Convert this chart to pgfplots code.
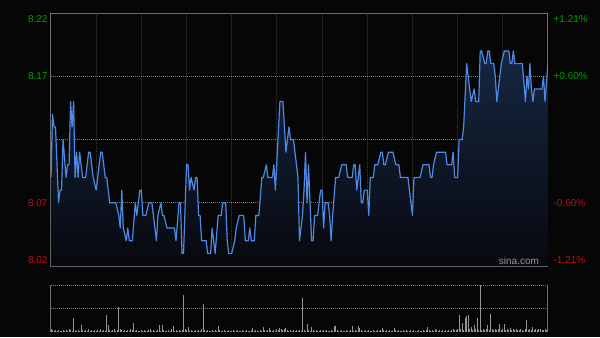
\documentclass[border=0pt]{standalone}
\usepackage{pgfplots}
\pgfplotsset{compat=1.18}
\usepackage{pgfplotstable}
\usepackage{fontspec}
\setmainfont{Liberation Sans}
\definecolor{bg}{RGB}{6,6,6}
\definecolor{framecol}{RGB}{110,110,110}
\definecolor{vgrid}{RGB}{58,58,58}
\definecolor{hgrid}{RGB}{120,120,120}
\definecolor{pline}{RGB}{78,138,228}
\definecolor{ftop}{RGB}{22,38,66}
\definecolor{fbot}{RGB}{7,9,14}
\definecolor{upg}{RGB}{0,160,0}
\definecolor{dnr}{RGB}{204,10,10}
\definecolor{volc}{RGB}{150,150,150}
\definecolor{sinac}{RGB}{150,150,150}

\pgfplotstableread{
m p
0 8.09
1 8.14
2 8.13
3 8.13
5 8.07
6 8.08
7 8.08
8 8.12
10 8.09
11 8.10
12 8.10
13 8.15
14 8.13
15 8.15
16 8.09
17 8.11
18 8.09
19 8.11
21 8.09
23 8.09
25 8.11
26 8.11
28 8.09
30 8.08
31 8.09
33 8.11
34 8.11
36 8.09
37 8.09
39 8.07
43 8.07
45 8.06
46 8.05
47 8.08
48 8.05
50 8.04
51 8.05
52 8.04
54 8.04
56 8.07
57 8.06
59 8.08
60 8.08
61 8.06
63 8.06
65 8.07
67 8.07
68 8.06
70 8.04
71 8.06
73 8.07
74 8.06
75 8.06
77 8.05
82 8.05
83 8.04
85 8.07
86 8.07
87 8.03
88 8.03
90 8.10
91 8.10
92 8.08
93 8.09
95 8.08
96 8.09
97 8.09
98 8.06
99 8.06
100 8.04
103 8.04
104 8.03
106 8.03
107 8.05
109 8.03
111 8.06
113 8.06
114 8.07
116 8.07
117 8.04
118 8.03
120 8.03
122 8.04
123 8.05
125 8.06
128 8.06
129 8.04
131 8.04
132 8.05
133 8.04
135 8.04
136 8.06
138 8.06
140 8.09
141 8.09
143 8.10
144 8.09
147 8.09
148 8.10
149 8.08
152 8.15
154 8.15
155 8.13
156 8.11
158 8.13
159 8.12
161 8.12
163 8.10
164 8.09
165 8.04
167 8.06
168 8.08
169 8.11
170 8.07
171 8.10
173 8.04
174 8.04
175 8.06
177 8.06
179 8.08
180 8.08
181 8.05
182 8.07
184 8.07
185 8.06
186 8.04
187 8.06
189 8.09
191 8.09
193 8.10
196 8.10
197 8.09
200 8.09
201 8.10
202 8.10
203 8.08
205 8.10
206 8.07
207 8.07
208 8.08
210 8.08
211 8.06
212 8.09
214 8.09
215 8.10
217 8.10
219 8.11
220 8.11
221 8.10
222 8.10
224 8.11
227 8.11
229 8.10
231 8.10
232 8.09
237 8.09
239 8.07
240 8.06
241 8.09
245 8.09
247 8.10
251 8.10
252 8.09
253 8.09
254 8.10
256 8.11
262 8.11
263 8.10
266 8.10
267 8.11
268 8.09
270 8.09
271 8.12
273 8.12
274 8.13
276 8.18
277 8.17
279 8.15
281 8.16
282 8.15
284 8.15
285 8.19
286 8.19
288 8.18
289 8.18
290 8.19
291 8.19
292 8.18
294 8.18
295 8.17
296 8.15
298 8.17
299 8.18
301 8.19
304 8.19
305 8.18
306 8.18
307 8.19
308 8.18
313 8.18
315 8.15
316 8.17
317 8.16
318 8.18
319 8.16
320 8.15
321 8.16
326 8.16
327 8.17
328 8.15
330 8.18
}\price

\pgfplotstableread[row sep=\\]{
v\\
3\\2\\1\\2\\1\\2\\1\\1\\2\\1\\
2\\1\\3\\2\\1\\14\\2\\1\\2\\1\\
7\\2\\1\\2\\1\\3\\1\\2\\1\\2\\
1\\2\\1\\3\\1\\2\\1\\17\\7\\2\\
1\\2\\3\\1\\2\\25\\3\\2\\1\\2\\
1\\2\\1\\3\\2\\9\\1\\2\\1\\1\\
2\\1\\2\\1\\1\\2\\3\\1\\2\\1\\
1\\2\\7\\1\\7\\2\\1\\1\\2\\1\\
3\\6\\1\\2\\1\\2\\1\\2\\37\\3\\
2\\5\\1\\2\\1\\1\\2\\1\\2\\1\\
3\\28\\2\\1\\2\\1\\1\\2\\1\\2\\
1\\6\\2\\1\\1\\2\\1\\1\\2\\1\\
1\\2\\1\\1\\2\\1\\1\\2\\1\\1\\
2\\1\\1\\2\\4\\1\\2\\1\\1\\2\\
1\\5\\2\\1\\2\\4\\2\\1\\2\\1\\
3\\2\\4\\3\\2\\3\\4\\2\\1\\2\\
1\\2\\1\\2\\1\\2\\1\\34\\2\\1\\
8\\2\\1\\5\\2\\1\\2\\1\\1\\2\\
1\\2\\1\\2\\1\\1\\2\\1\\6\\6\\
2\\1\\1\\2\\1\\1\\2\\1\\1\\2\\
6\\1\\2\\1\\6\\4\\2\\1\\1\\2\\
1\\2\\1\\1\\2\\1\\1\\2\\1\\2\\
4\\2\\1\\2\\1\\2\\1\\1\\4\\2\\
1\\2\\1\\1\\2\\1\\2\\1\\1\\2\\
1\\2\\1\\1\\2\\1\\1\\2\\1\\2\\
5\\2\\1\\2\\1\\3\\2\\1\\2\\1\\
2\\1\\2\\1\\2\\1\\2\\3\\2\\2\\
3\\17\\3\\9\\2\\14\\16\\17\\3\\5\\
2\\7\\3\\14\\2\\47\\2\\3\\2\\3\\
7\\2\\18\\3\\2\\3\\2\\3\\8\\2\\
3\\8\\2\\3\\2\\4\\2\\3\\2\\3\\
2\\2\\3\\2\\1\\3\\12\\2\\3\\2\\
5\\2\\3\\2\\3\\3\\2\\2\\3\\2\\
2\\
}\vol

\begin{document}
\begin{tikzpicture}
\fill[bg] (0,0) rectangle (450pt,252.75pt);
\begin{axis}[
  at={(38.25pt,53.25pt)}, anchor=south west, scale only axis,
  width=372.75pt, height=189.75pt,
  xmin=0, xmax=330, ymin=8.02, ymax=8.22,
  axis line style={draw=framecol, line width=0.75pt},
  xtick={30,60,...,300}, ytick={8.07,8.17},
  xticklabels={}, yticklabels={},
  major tick length=0pt,
  xmajorgrids, ymajorgrids,
  x grid style={vgrid, line width=0.75pt, dash pattern=on 0.75pt off 0.75pt},
  y grid style={hgrid, line width=0.6pt, dash pattern=on 0.75pt off 0.75pt},
  extra y ticks={8.12}, extra y tick labels={},
  extra y tick style={grid=major, major grid style={hgrid, line width=0.6pt, dash pattern=on 3pt off 1pt on 0.75pt off 1pt}},
  clip mode=individual,
]
\addplot[draw=none, top color=ftop, bottom color=fbot] table[x=m, y=p] {\price} \closedcycle;
\addplot[pline, line width=0.9pt, line join=round] table[x=m, y=p] {\price};
\end{axis}
\begin{axis}[
  at={(38.25pt,3.75pt)}, anchor=south west, scale only axis,
  width=372.75pt, height=35.25pt,
  xmin=0, xmax=330, ymin=0, ymax=47,
  axis x line=none, axis y line=box,
  axis line style={draw=framecol, line width=0.75pt},
  ytick={23.5,47}, yticklabels={}, xtick=\empty,
  major tick length=0pt,
  ymajorgrids,
  y grid style={hgrid, line width=0.6pt, dash pattern=on 0.75pt off 0.75pt},
]
\addplot[ycomb, volc, line width=0.7pt, mark=none] table[x expr=\coordindex, y=v] {\vol};
\end{axis}
\begin{scope}[font=\fontsize{7.5pt}{9pt}\selectfont, inner sep=0pt]
\node[anchor=north east, text=upg] at (35.8pt,241.5pt) {8.22};
\node[anchor=east, text=upg] at (35.8pt,195.4pt) {8.17};
\node[anchor=east, text=dnr] at (35.8pt,100.5pt) {8.07};
\node[anchor=south east, text=dnr] at (35.8pt,54.75pt) {8.02};
\node[anchor=north west, text=upg] at (415pt,241.5pt) {+1.21\%};
\node[anchor=west, text=upg] at (415pt,195.4pt) {+0.60\%};
\node[anchor=west, text=dnr] at (415pt,100.5pt) {-0.60\%};
\node[anchor=south west, text=dnr] at (415pt,54.75pt) {-1.21\%};
\node[anchor=base west, text=sinac] at (374pt,54.2pt) {sina.com};
\end{scope}
\end{tikzpicture}
\end{document}
